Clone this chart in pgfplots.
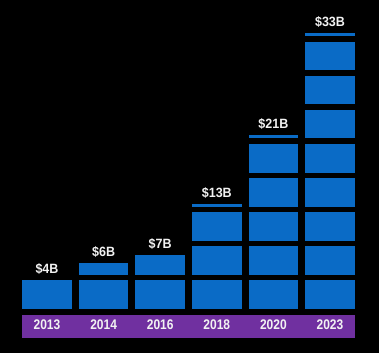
\documentclass[border=0pt]{standalone}
\usepackage{fontspec}
\setmainfont{Liberation Sans}
\newfontfamily\lab[FakeStretch=0.86]{Liberation Sans}
\newfontfamily\vlab[FakeStretch=0.93]{Liberation Sans}
\usepackage{pgfplots}
\usepackage{pgfplotstable}
\pgfplotsset{compat=1.18}
\definecolor{barblue}{HTML}{0A6BC6}
\definecolor{bandpurple}{HTML}{7030A0}
\definecolor{txt}{HTML}{F2F2F2}

\tikzset{
  labfont/.style={font=\lab\bfseries\fontsize{14}{14}\selectfont, text=txt},
  valfont/.style={font=\vlab\bfseries\fontsize{13.5}{13.5}\selectfont, text=txt},
}

% segments of 4B each (zeros padded at the bottom)
\pgfplotstableread{
x s1 s2 s3 s4 s5 s6 s7 s8 s9 tot
0 0 0 0 0 0 0 0 0 4 4
1 0 0 0 0 0 0 0 4 2 6
2 0 0 0 0 0 0 0 4 3 7
3 0 0 0 0 0 4 4 4 1 13
4 0 0 0 4 4 4 4 4 1 21
5 4 4 4 4 4 4 4 4 1 33
}\data

\pgfplotsset{
  common/.style={
    at={(0,0)}, anchor=south west,
    scale only axis, width=333bp, height=338bp,
    xmin=-0.4417, xmax=5.4417,
    ymin=-3.11, ymax=36.56,
    clip=false,
    axis line style={draw=none},
    major tick length=0pt,
    ytick=\empty,
  },
}

\begin{document}
\begin{tikzpicture}
\fill[black] (-22bp,-15bp) rectangle (357bp,338bp);
\fill[bandpurple] (0,0) rectangle (333bp,23bp);
\begin{axis}[
  common,
  xtick={0,1,2,3,4,5},
  xticklabels={2013,2014,2016,2018,2020,2023},
  xticklabel style={anchor=center, yshift=13.5bp, labfont},
  ybar stacked,
  bar width=55bp,
  seg/.style={fill=barblue, draw=black, line width=5.5bp},
]
\addplot[seg] table[x=x,y=s1]{\data};
\addplot[seg] table[x=x,y=s2]{\data};
\addplot[seg] table[x=x,y=s3]{\data};
\addplot[seg] table[x=x,y=s4]{\data};
\addplot[seg] table[x=x,y=s5]{\data};
\addplot[seg] table[x=x,y=s6]{\data};
\addplot[seg] table[x=x,y=s7]{\data};
\addplot[seg] table[x=x,y=s8]{\data};
\addplot[seg] table[x=x,y=s9]{\data};
\end{axis}
\begin{axis}[common, xtick=\empty]
\addplot[draw=none, mark=none,
  point meta=explicit symbolic,
  nodes near coords={\$\pgfplotspointmeta B},
  every node near coord/.style={anchor=center, yshift=8.3bp, valfont}]
  table[x=x,y=tot,meta=tot]{\data};
\end{axis}
\end{tikzpicture}
\end{document}
